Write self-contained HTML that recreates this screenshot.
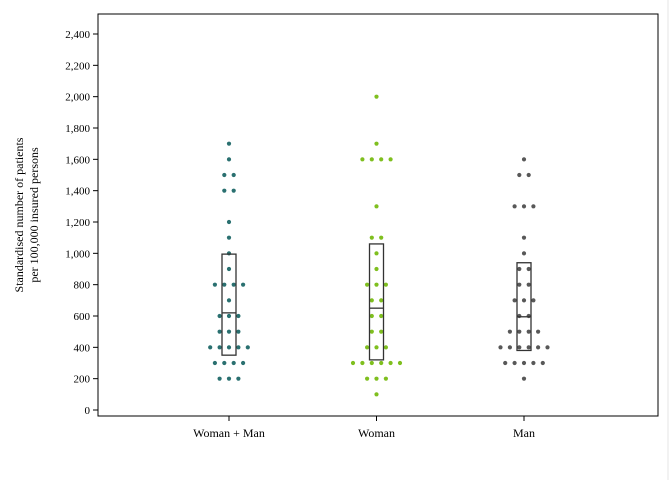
<!DOCTYPE html>
<html><head><meta charset="utf-8"><style>
body{margin:0;background:#fff;}
svg{display:block;font-family:"Liberation Serif",serif;}
</style></head><body>
<svg id="c" width="672" height="480">
<line x1="668" y1="0" x2="668" y2="480" stroke="#e6e6e6"/>
<rect x="98" y="14" width="560" height="402" fill="none" stroke="#000"/>
<text transform="translate(23,215) rotate(-90)" text-anchor="middle" font-size="12"><tspan x="0" dy="0">Standardised number of patients</tspan><tspan x="0" dy="15">per 100,000 insured persons</tspan></text>
<g id="ax"></g><g id="marks"></g>
</svg>
<script>
const categories=["Woman + Man","Woman","Man"];
const colors=["#2a7070","#7fbf1f","#585858"];
const yTicks=[0,200,400,600,800,1000,1200,1400,1600,1800,2000,2200,2400];
const tickLabels=["0","200","400","600","800","1,000","1,200","1,400","1,600","1,800","2,000","2,200","2,400"];
// [value, count] pairs per group
const dotsWM=[[1700,1],[1600,1],[1500,2],[1400,2],[1200,1],[1100,1],[1000,1],[900,1],[800,4],[700,1],[600,3],[500,3],[400,5],[300,4],[200,3]];
const dotsW=[[2000,1],[1700,1],[1600,4],[1300,1],[1100,2],[1000,1],[900,1],[800,3],[700,2],[600,2],[500,2],[400,3],[300,6],[200,3],[100,1]];
const dotsM=[[1600,1],[1500,2],[1300,3],[1100,1],[1000,1],[900,2],[800,2],[700,3],[600,2],[500,4],[400,6],[300,5],[200,1]];
const boxLow=[350,320,380];
const boxMed=[620,650,595];
const boxHigh=[995,1060,940];
const groups=[dotsWM,dotsW,dotsM];
const ns="http://www.w3.org/2000/svg";
const y=v=>410-v*(376/2400);
const x=i=>229+i*147.5;
const ax=document.getElementById('ax'),mk=document.getElementById('marks');
function el(t,a,p){const e=document.createElementNS(ns,t);for(const k in a)e.setAttribute(k,a[k]);p.appendChild(e);return e;}
yTicks.forEach((v,i)=>{
  const l=el('line',{x1:93,x2:98,y1:y(v),y2:y(v),stroke:'#000'},ax);
  
  
  const t=el('text',{x:90,y:y(v)+4,'text-anchor':'end','font-size':11},ax);
  t.textContent=tickLabels[i];
  
  
});
categories.forEach((c,i)=>{
  const l=el('line',{x1:x(i),x2:x(i),y1:416,y2:421,stroke:'#000'},ax);
  
  
  const t=el('text',{x:x(i),y:437,'text-anchor':'middle','font-size':12},ax);
  t.textContent=c;
  
  
  groups[i].forEach(([v,n])=>{
    for(let k=0;k<n;k++){
      const d=el('circle',{cx:x(i)+(k-(n-1)/2)*9.4,cy:y(v),r:2.1,fill:colors[i]},mk);
      
      
    }
  });
  const b=el('rect',{x:x(i)-7,y:y(boxHigh[i]),width:14,height:y(boxLow[i])-y(boxHigh[i]),fill:'none',stroke:'#333','stroke-width':1.3},mk);
  
  
  const m=el('line',{x1:x(i)-7,x2:x(i)+7,y1:y(boxMed[i]),y2:y(boxMed[i]),stroke:'#333','stroke-width':1.3},mk);
  
  
});
</script>
</body></html>
